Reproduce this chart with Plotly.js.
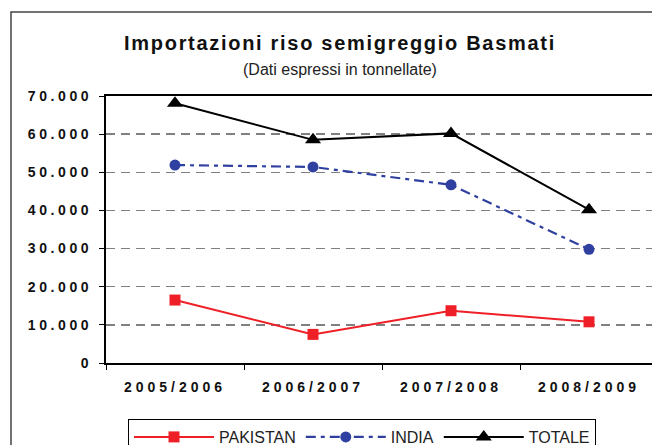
<!DOCTYPE html>
<html>
<head>
<meta charset="utf-8">
<script src="https://cdn.plot.ly/plotly-3.0.1.min.js"></script>
<style>
  html, body { margin: 0; padding: 0; overflow: hidden; background: #fff; }
  #chart { width: 680px; height: 445px; }
  .xtick text { letter-spacing: 4px; }
  .ytick text { letter-spacing: 3.6px; }
  .gtitle { letter-spacing: 1.7px; }
</style>
</head>
<body>
<div id="chart"></div>
<script>
const categories = ['2005/2006', '2006/2007', '2007/2008', '2008/2009'];
const pakistan = [16500, 7500, 13700, 10800];
const india = [51900, 51400, 46700, 29800];
const totale = [68100, 58500, 60200, 40200];
const seriesNames = ['PAKISTAN', 'INDIA', 'TOTALE'];
const titleText = 'Importazioni riso semigreggio Basmati';
const subtitleText = '(Dati espressi in tonnellate)';

const FONT = 'Liberation Sans, Arial, sans-serif';

const traces = [
  {
    x: categories, y: pakistan, name: seriesNames[0], type: 'scatter', mode: 'lines+markers',
    line: { color: '#ee1f26', width: 2 },
    marker: { symbol: 'square', size: 11, color: '#ee1f26' }
  },
  {
    x: categories, y: india, name: seriesNames[1], type: 'scatter', mode: 'lines+markers',
    line: { color: '#2f40a0', width: 2.2, dash: '10px,5px,4px,5px' },
    marker: { symbol: 'circle', size: 11, color: '#2f40a0' }
  },
  {
    x: categories, y: totale, name: seriesNames[2], type: 'scatter', mode: 'lines+markers',
    line: { color: '#000000', width: 2 },
    marker: { symbol: 'triangle-up', size: 14, color: '#000000' }
  }
];

const layout = {
  width: 680, height: 445,
  margin: { l: 106, r: 22, t: 96, b: 82, autoexpand: false },
  paper_bgcolor: '#ffffff', plot_bgcolor: '#ffffff',
  separators: ',.',
  showlegend: true,
  font: { family: FONT, color: '#111' },
  title: {
    text: '<b>' + titleText + '</b>',
    xref: 'container', x: 0.5, xanchor: 'center',
    yref: 'container', y: 1 - 43 / 445, yanchor: 'middle',
    font: { family: FONT, size: 20, color: '#111' }
  },
  annotations: [{
    text: subtitleText, showarrow: false,
    xref: 'paper', yref: 'paper', x: (340 - 106) / 552, y: (363 - 69) / 267,
    xanchor: 'center', yanchor: 'middle',
    font: { family: FONT, size: 16, color: '#222' }
  }],
  xaxis: {
    type: 'category', range: [-0.5, 3.5], autorange: false,
    showline: true, linecolor: '#000', linewidth: 2, mirror: true,
    showgrid: false, zeroline: false,
    ticks: 'outside', tickson: 'boundaries', ticklen: 5, tickcolor: '#000', tickwidth: 1,
    tickfont: { family: FONT, size: 14, weight: 'bold', color: '#111' },
    ticklabelstandoff: 10
  },
  yaxis: {
    range: [0, 70000], autorange: false, dtick: 10000, tick0: 0, tickformat: ',d',
    showline: true, linecolor: '#000', linewidth: 2, mirror: true,
    showgrid: true, gridcolor: '#808080', gridwidth: 1.5, griddash: '9px,6px',
    zeroline: false,
    ticks: 'outside', ticklen: 5, tickcolor: '#000', tickwidth: 1,
    tickfont: { family: FONT, size: 14, weight: 'bold', color: '#111' },
    ticklabelstandoff: 4
  },
  legend: {
    orientation: 'h',
    x: (128 - 106) / 552, xanchor: 'left',
    y: (363 - 419) / 267, yanchor: 'top',
    bordercolor: '#000', borderwidth: 1, bgcolor: '#fff',
    font: { family: FONT, size: 16, color: '#222' },
    itemwidth: 80
  },
  shapes: [{
    type: 'rect', xref: 'paper', yref: 'paper',
    x0: (11 - 106) / 552, x1: 2, y0: (363 - 12) / 267, y1: -1,
    line: { color: '#444', width: 1.5 }, fillcolor: 'rgba(0,0,0,0)', layer: 'below'
  }]
};

Plotly.newPlot('chart', traces, layout, { displayModeBar: false, staticPlot: true });
</script>
</body>
</html>
